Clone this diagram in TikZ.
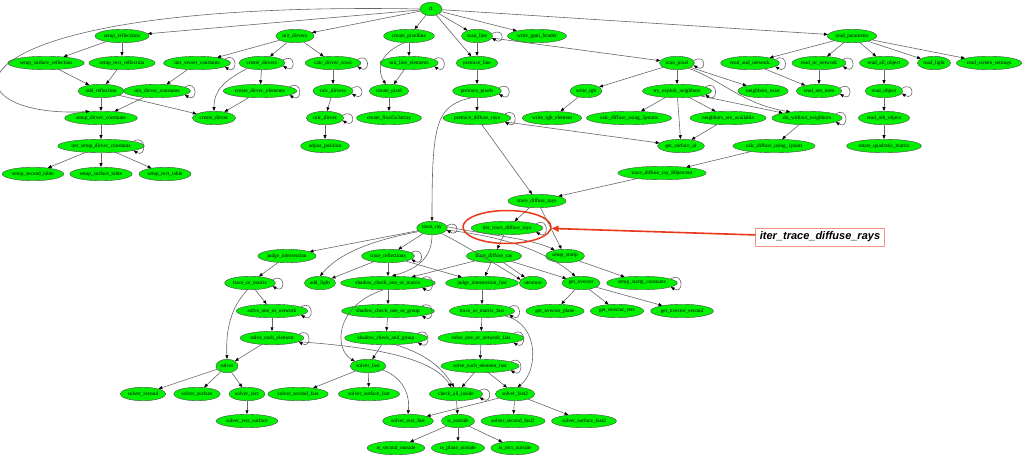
\documentclass[tikz,border=0pt]{standalone}
\usepackage{fontspec}
\setmainfont{Liberation Serif}
\newfontfamily\calloutfont{Liberation Sans}
\usetikzlibrary{arrows.meta,shapes.geometric}
\definecolor{fgreen}{RGB}{0,240,0}
\definecolor{hired}{RGB}{232,56,24}
\definecolor{boxred}{RGB}{242,150,130}
\tikzstyle{func} = [ellipse, draw=black!70, fill=fgreen, inner xsep=1pt, inner ysep=1pt, minimum width=22pt, minimum height=13.5pt, font=\fontsize{5.3}{6}\selectfont]
\tikzstyle{callout} = [rectangle, draw=boxred, line width=0.8pt, fill=white, inner xsep=4pt, minimum height=18pt, font=\calloutfont\fontsize{11}{13}\selectfont\bfseries\itshape]
\tikzset{edge/.style = {
    draw=black!60, line width=0.6pt,
    -{Triangle[length=3.8pt,width=3pt,color=black]},
  },
  hiline/.style = {
    draw=hired, line width=1.6pt,
    -{Triangle[length=7pt,width=6pt]},
  }
}
\newcommand{\selfcall}[1]{\draw[edge] (#1.8) .. controls +(13,-8) and +(13,8) .. (#1.-8);}

\begin{document}
\begin{tikzpicture}[x=1pt,y=-1pt]
  \useasboundingbox (0,0) rectangle (1024,457);
  % functions
  \node[func] (rt) at (431,9) {rt};
  \node[func] (setup_reflections) at (122,36) {setup\_reflections};
  \node[func] (init_dirvecs) at (295,36) {init\_dirvecs};
  \node[func] (create_pixelline) at (409,36) {create\_pixelline};
  \node[func] (scan_line) at (477,36) {scan\_line};
  \node[func] (write_ppm_header) at (537,36) {write\_ppm\_header};
  \node[func] (read_parameter) at (852,36) {read\_parameter};

  \node[func] (setup_surface_reflection) at (46,63) {setup\_surface\_reflection};
  \node[func] (setup_rect_reflection) at (122,63) {setup\_rect\_reflection};
  \node[func] (init_vecset_constants) at (197,63) {init\_vecset\_constants};
  \node[func] (create_dirvecs) at (262,63) {create\_dirvecs};
  \node[func] (calc_dirvec_rows) at (333,63) {calc\_dirvec\_rows};
  \node[func] (init_line_elements) at (409,63) {init\_line\_elements};
  \node[func] (pretrace_line) at (477,63) {pretrace\_line};
  \node[func] (scan_pixel) at (677,63) {scan\_pixel};
  \node[func] (read_and_network) at (750,63) {read\_and\_network};
  \node[func] (read_or_network) at (819,63) {read\_or\_network};
  \node[func] (read_all_object) at (884,63) {read\_all\_object};
  \node[func] (read_light) at (934,63) {read\_light};
  \node[func] (read_screen_settings) at (989,63) {read\_screen\_settings};

  \node[func] (add_reflection) at (101,91) {add\_reflection};
  \node[func] (init_dirvec_constants) at (157,91) {init\_dirvec\_constants};
  \node[func] (create_dirvec_elements) at (260,91) {create\_dirvec\_elements};
  \node[func] (calc_dirvecs) at (333,91) {calc\_dirvecs};
  \node[func] (create_pixel) at (389,91) {create\_pixel};
  \node[func] (pretrace_pixels) at (477,91) {pretrace\_pixels};
  \node[func] (write_rgb) at (586,91) {write\_rgb};
  \node[func] (try_exploit_neighbors) at (677,91) {try\_exploit\_neighbors};
  \node[func] (neighbors_exist) at (763,91) {neighbors\_exist};
  \node[func] (read_net_item) at (819,91) {read\_net\_item};
  \node[func] (read_object) at (884,91) {read\_object};

  \node[func] (setup_dirvec_constants) at (101,118) {setup\_dirvec\_constants};
  \node[func] (create_dirvec) at (214,118) {create\_dirvec};
  \node[func] (calc_dirvec) at (325,118) {calc\_dirvec};
  \node[func] (create_float5x3array) at (389,118) {create\_float5x3array};
  \node[func] (pretrace_diffuse_rays) at (477,118) {pretrace\_diffuse\_rays};
  \node[func] (write_rgb_element) at (552,118) {write\_rgb\_element};
  \node[func] (calc_diffuse_using_5points) at (629,118) {calc\_diffuse\_using\_5points};
  \node[func] (neighbors_are_available) at (728,118) {neighbors\_are\_available};
  \node[func] (do_without_neighbors) at (807,118) {do\_without\_neighbors};
  \node[func] (read_nth_object) at (884,118) {read\_nth\_object};

  \node[func] (iter_setup_dirvec_constants) at (101,146) {iter\_setup\_dirvec\_constants};
  \node[func] (adjust_position) at (325,146) {adjust\_position};
  \node[func] (get_surface_id) at (681,146) {get\_surface\_id};
  \node[func] (calc_diffuse_using_1point) at (774,146) {calc\_diffuse\_using\_1point};
  \node[func] (rotate_quadratic_matrix) at (884,146) {rotate\_quadratic\_matrix};

  \node[func] (setup_second_table) at (33,174) {setup\_second\_table};
  \node[func] (setup_surface_table) at (101,174) {setup\_surface\_table};
  \node[func] (setup_rect_table) at (165,174) {setup\_rect\_table};
  \node[func] (trace_diffuse_ray_80percent) at (662,173) {trace\_diffuse\_ray\_80percent};

  \node[func] (trace_diffuse_rays) at (537,201) {trace\_diffuse\_rays};

  \node[func] (trace_ray) at (432,228) {trace\_ray};
  \node[func] (iter_trace_diffuse_rays) at (507,228) {iter\_trace\_diffuse\_rays};

  \node[func] (judge_intersection) at (287,256) {judge\_intersection};
  \node[func] (trace_reflections) at (388,256) {trace\_reflections};
  \node[func] (trace_diffuse_ray) at (494,256) {trace\_diffuse\_ray};
  \node[func] (setup_startp) at (565,256) {setup\_startp};

  \node[func] (trace_or_matrix) at (250,283) {trace\_or\_matrix};
  \node[func] (add_light) at (320,283) {add\_light};
  \node[func] (shadow_check_one_or_matrix) at (388,283) {shadow\_check\_one\_or\_matrix};
  \node[func] (judge_intersection_fast) at (482,283) {judge\_intersection\_fast};
  \node[func] (utexture) at (533,283) {utexture};
  \node[func] (get_nvector) at (581,283) {get\_nvector};
  \node[func] (setup_startp_constants) at (642,283) {setup\_startp\_constants};

  \node[func] (solve_one_or_network) at (272,311) {solve\_one\_or\_network};
  \node[func] (shadow_check_one_or_group) at (388,311) {shadow\_check\_one\_or\_group};
  \node[func] (trace_or_matrix_fast) at (482,311) {trace\_or\_matrix\_fast};
  \node[func] (get_nvector_plane) at (555,311) {get\_nvector\_plane};
  \node[func] (get_nvector_rect) at (617,311) {get\_nvector\_rect};
  \node[func] (get_nvector_second) at (682,311) {get\_nvector\_second};

  \node[func] (solve_each_element) at (272,338) {solve\_each\_element};
  \node[func] (shadow_check_and_group) at (386,338) {shadow\_check\_and\_group};
  \node[func] (solve_one_or_network_fast) at (481,338) {solve\_one\_or\_network\_fast};

  \node[func] (solver) at (227,366) {solver};
  \node[func] (solver_fast) at (368,366) {solver\_fast};
  \node[func] (solve_each_element_fast) at (480,366) {solve\_each\_element\_fast};

  \node[func] (solver_second) at (143,394) {solver\_second};
  \node[func] (solver_surface) at (197,394) {solver\_surface};
  \node[func] (solver_rect) at (247,394) {solver\_rect};
  \node[func] (solver_second_fast) at (298,394) {solver\_second\_fast};
  \node[func] (solver_surface_fast) at (369,394) {solver\_surface\_fast};
  \node[func] (check_all_inside) at (456,394) {check\_all\_inside};
  \node[func] (solver_fast2) at (515,394) {solver\_fast2};

  \node[func] (solver_rect_surface) at (247,421) {solver\_rect\_surface};
  \node[func] (solver_rect_fast) at (408,421) {solver\_rect\_fast};
  \node[func] (is_outside) at (458,421) {is\_outside};
  \node[func] (solver_second_fast2) at (513,421) {solver\_second\_fast2};
  \node[func] (solver_surface_fast2) at (584,421) {solver\_surface\_fast2};

  \node[func] (is_second_outside) at (396,448) {is\_second\_outside};
  \node[func] (is_plane_outside) at (458,448) {is\_plane\_outside};
  \node[func] (is_rect_outside) at (515,448) {is\_rect\_outside};

  % calls from rt
  \draw[edge] (rt) -- (setup_reflections);
  \draw[edge] (rt.west) .. controls (-75,0) and (-60,120) .. (setup_dirvec_constants.150);
  \draw[edge] (rt) -- (init_dirvecs);
  \draw[edge] (rt) -- (create_pixelline);
  \draw[edge] (rt) -- (scan_line);
  \draw[edge] (rt) -- (pretrace_line);
  \draw[edge] (rt) -- (write_ppm_header);
  \draw[edge] (rt) -- (read_parameter);

  % setup side
  \draw[edge] (setup_reflections) -- (setup_surface_reflection);
  \draw[edge] (setup_reflections) -- (setup_rect_reflection);
  \draw[edge] (setup_surface_reflection) -- (add_reflection);
  \draw[edge] (setup_rect_reflection) -- (add_reflection);
  \draw[edge] (add_reflection) -- (setup_dirvec_constants);
  \draw[edge] (add_reflection) -- (create_dirvec);
  \draw[edge] (init_dirvecs) -- (init_vecset_constants);
  \draw[edge] (init_dirvecs) -- (create_dirvecs);
  \draw[edge] (init_dirvecs) -- (calc_dirvec_rows);
  \draw[edge] (init_vecset_constants) -- (init_dirvec_constants);
  \draw[edge] (init_dirvec_constants) -- (setup_dirvec_constants);
  \draw[edge] (create_dirvecs) -- (create_dirvec_elements);
  \draw[edge] (create_dirvecs.200) .. controls +(-22,12) and +(0,-22) .. (create_dirvec.north);
  \draw[edge] (create_dirvec_elements) -- (create_dirvec);
  \draw[edge] (setup_dirvec_constants) -- (iter_setup_dirvec_constants);
  \draw[edge] (iter_setup_dirvec_constants) -- (setup_second_table);
  \draw[edge] (iter_setup_dirvec_constants) -- (setup_surface_table);
  \draw[edge] (iter_setup_dirvec_constants) -- (setup_rect_table);
  \draw[edge] (calc_dirvec_rows) -- (calc_dirvecs);
  \draw[edge] (calc_dirvecs) -- (calc_dirvec);
  \draw[edge] (calc_dirvec) -- (adjust_position);
  \draw[edge] (create_pixelline) -- (init_line_elements);
  \draw[edge] (create_pixelline.235) .. controls (376,55) and (378,72) .. (create_pixel.115);
  \draw[edge] (init_line_elements) -- (create_pixel);
  \draw[edge] (create_pixel) -- (create_float5x3array);

  % scan side
  \draw[edge] (scan_line) -- (pretrace_line);
  \draw[edge] (scan_line) -- (scan_pixel);
  \draw[edge] (pretrace_line) -- (pretrace_pixels);
  \draw[edge] (pretrace_pixels) -- (pretrace_diffuse_rays);
  \draw[edge] (pretrace_pixels.230) .. controls (436,106) and (432,122) .. (trace_ray.north);
  \draw[edge] (pretrace_diffuse_rays) -- (trace_diffuse_rays);
  \draw[edge] (pretrace_diffuse_rays) -- (get_surface_id);
  \draw[edge] (scan_pixel) -- (write_rgb);
  \draw[edge] (scan_pixel) -- (try_exploit_neighbors);
  \draw[edge] (scan_pixel) -- (neighbors_exist);
  \draw[edge] (scan_pixel.-25) .. controls (722,80) and (742,104) .. (do_without_neighbors.160);
  \draw[edge] (write_rgb) -- (write_rgb_element);
  \draw[edge] (try_exploit_neighbors) -- (calc_diffuse_using_5points);
  \draw[edge] (try_exploit_neighbors) -- (neighbors_are_available);
  \draw[edge] (try_exploit_neighbors) -- (get_surface_id);
  \draw[edge] (try_exploit_neighbors) -- (do_without_neighbors);
  \draw[edge] (neighbors_are_available) -- (get_surface_id);
  \draw[edge] (do_without_neighbors) -- (calc_diffuse_using_1point);
  \draw[edge] (calc_diffuse_using_1point) -- (trace_diffuse_ray_80percent);
  \draw[edge] (trace_diffuse_ray_80percent) -- (trace_diffuse_rays);
  \draw[edge] (trace_diffuse_rays) -- (iter_trace_diffuse_rays);
  \draw[edge] (trace_diffuse_rays) -- (setup_startp);
  \draw[edge] (iter_trace_diffuse_rays) -- (trace_diffuse_ray);

  % reading
  \draw[edge] (read_parameter) -- (read_and_network);
  \draw[edge] (read_parameter) -- (read_or_network);
  \draw[edge] (read_parameter) -- (read_all_object);
  \draw[edge] (read_parameter) -- (read_light);
  \draw[edge] (read_parameter) -- (read_screen_settings);
  \draw[edge] (read_and_network) -- (read_net_item);
  \draw[edge] (read_or_network) -- (read_net_item);
  \draw[edge] (read_all_object) -- (read_object);
  \draw[edge] (read_object) -- (read_nth_object);
  \draw[edge] (read_nth_object) -- (rotate_quadratic_matrix);

  % tracing
  \draw[edge] (trace_ray) -- (judge_intersection);
  \draw[edge] (trace_ray.195) .. controls (352,244) and (332,262) .. (add_light.north);
  \draw[edge] (trace_ray) -- (trace_reflections);
  \draw[edge] (trace_ray.south) .. controls (432,256) and (420,268) .. (shadow_check_one_or_matrix.60);
  \draw[edge] (trace_ray.-30) .. controls (470,248) and (505,270) .. (utexture.165);
  \draw[edge] (trace_ray.-8) .. controls (500,236) and (545,250) .. (get_nvector.130);
  \draw[edge] (trace_ray.5) .. controls (480,234) and (530,238) .. (setup_startp.150);
  \draw[edge] (trace_reflections) -- (add_light);
  \draw[edge] (trace_reflections) -- (shadow_check_one_or_matrix);
  \draw[edge] (trace_reflections) -- (judge_intersection_fast);
  \draw[edge] (trace_diffuse_ray) -- (shadow_check_one_or_matrix);
  \draw[edge] (trace_diffuse_ray) -- (judge_intersection_fast);
  \draw[edge] (trace_diffuse_ray) -- (utexture);
  \draw[edge] (trace_diffuse_ray) -- (get_nvector);
  \draw[edge] (setup_startp) -- (setup_startp_constants);
  \draw[edge] (get_nvector) -- (get_nvector_plane);
  \draw[edge] (get_nvector) -- (get_nvector_rect);
  \draw[edge] (get_nvector) -- (get_nvector_second);

  % solving
  \draw[edge] (judge_intersection) -- (trace_or_matrix);
  \draw[edge] (trace_or_matrix) -- (solve_one_or_network);
  \draw[edge] (trace_or_matrix.250) .. controls (228,310) and (226,336) .. (solver.north);
  \draw[edge] (solve_one_or_network) -- (solve_each_element);
  \draw[edge] (solve_each_element) -- (solver);
  \draw[edge] (solve_each_element.-8) .. controls (390,348) and (436,362) .. (check_all_inside.125);
  \draw[edge] (shadow_check_one_or_matrix) -- (shadow_check_one_or_group);
  \draw[edge] (shadow_check_one_or_matrix.235) .. controls (334,306) and (334,350) .. (solver_fast.160);
  \draw[edge] (shadow_check_one_or_group) -- (shadow_check_and_group);
  \draw[edge] (shadow_check_and_group) -- (solver_fast);
  \draw[edge] (shadow_check_and_group.-35) .. controls (432,356) and (444,372) .. (check_all_inside.105);
  \draw[edge] (solver_fast) -- (solver_second_fast);
  \draw[edge] (solver_fast) -- (solver_surface_fast);
  \draw[edge] (solver_fast.-15) .. controls (404,378) and (410,396) .. (solver_rect_fast.north);
  \draw[edge] (judge_intersection_fast) -- (trace_or_matrix_fast);
  \draw[edge] (trace_or_matrix_fast) -- (solve_one_or_network_fast);
  \draw[edge] (trace_or_matrix_fast.-12) .. controls (540,324) and (538,372) .. (solver_fast2.70);
  \draw[edge] (solve_one_or_network_fast) -- (solve_each_element_fast);
  \draw[edge] (solve_each_element_fast) -- (check_all_inside);
  \draw[edge] (solve_each_element_fast) -- (solver_fast2);
  \draw[edge] (solver_fast2) -- (solver_rect_fast);
  \draw[edge] (solver_fast2) -- (solver_second_fast2);
  \draw[edge] (solver_fast2) -- (solver_surface_fast2);
  \draw[edge] (check_all_inside) -- (is_outside);
  \draw[edge] (is_outside) -- (is_second_outside);
  \draw[edge] (is_outside) -- (is_plane_outside);
  \draw[edge] (is_outside) -- (is_rect_outside);
  \draw[edge] (solver) -- (solver_second);
  \draw[edge] (solver) -- (solver_surface);
  \draw[edge] (solver) -- (solver_rect);
  \draw[edge] (solver_rect) -- (solver_rect_surface);

  % self calls
  \selfcall{init_vecset_constants}
  \selfcall{init_dirvec_constants}
  \selfcall{create_dirvecs}
  \selfcall{create_dirvec_elements}
  \selfcall{calc_dirvec_rows}
  \selfcall{calc_dirvecs}
  \selfcall{calc_dirvec}
  \selfcall{init_line_elements}
  \selfcall{scan_line}
  \selfcall{pretrace_pixels}
  \selfcall{pretrace_diffuse_rays}
  \selfcall{iter_setup_dirvec_constants}
  \selfcall{scan_pixel}
  \selfcall{try_exploit_neighbors}
  \selfcall{do_without_neighbors}
  \selfcall{read_and_network}
  \selfcall{read_or_network}
  \selfcall{read_net_item}
  \selfcall{read_object}
  \selfcall{trace_ray}
  \selfcall{iter_trace_diffuse_rays}
  \selfcall{trace_reflections}
  \selfcall{shadow_check_one_or_matrix}
  \selfcall{shadow_check_one_or_group}
  \selfcall{shadow_check_and_group}
  \selfcall{trace_or_matrix}
  \selfcall{solve_one_or_network}
  \selfcall{solve_each_element}
  \selfcall{trace_or_matrix_fast}
  \selfcall{solve_one_or_network_fast}
  \selfcall{solve_each_element_fast}
  \selfcall{check_all_inside}
  \selfcall{setup_startp_constants}

  % highlight
  \node[ellipse, draw=hired, line width=1.5pt, minimum width=88pt, minimum height=33pt] (hilite) at (507,227) {};
  \node[callout] (note) at (820,237) {iter\_trace\_diffuse\_rays};
  \draw[hiline] (note) -- (hilite);
\end{tikzpicture}
\end{document}
